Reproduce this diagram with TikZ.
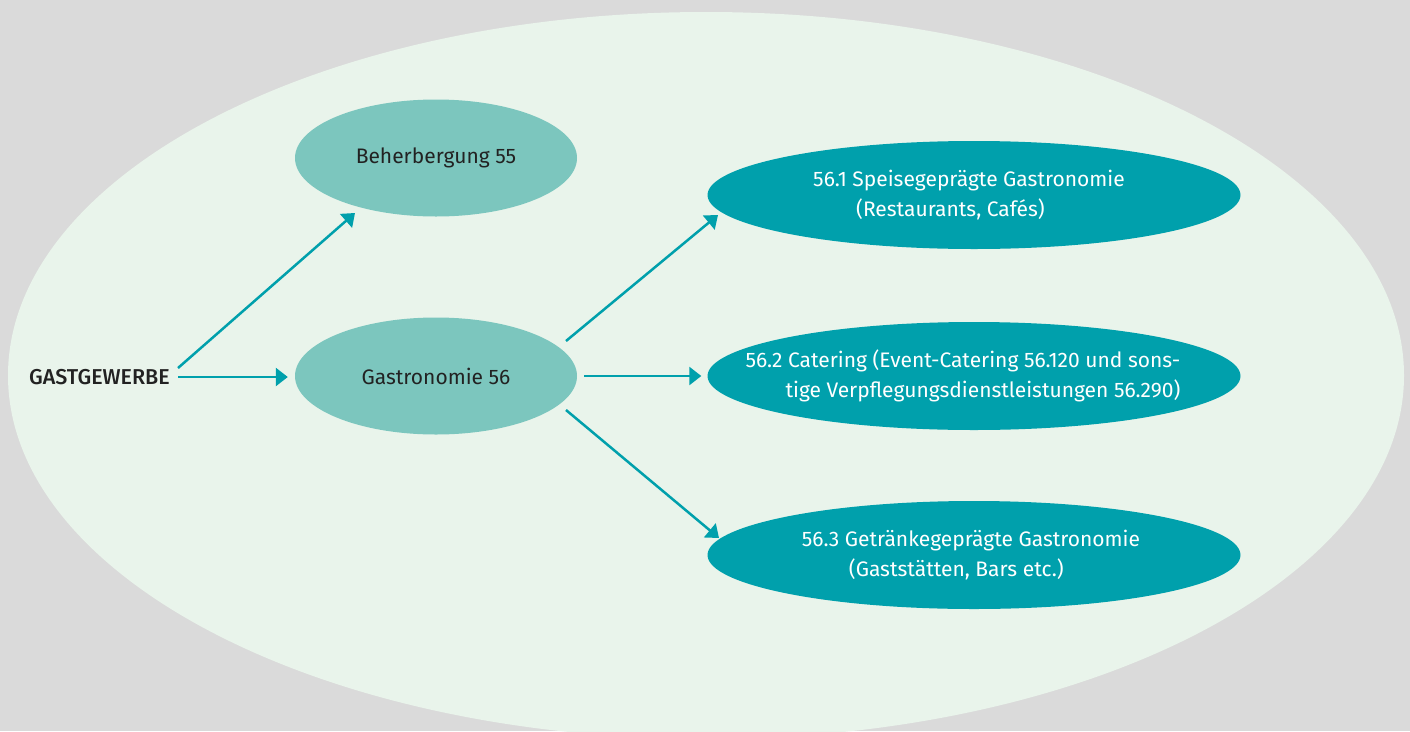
\documentclass[tikz,border=0pt]{standalone}
\usepackage{fontspec}
\setmainfont{Fira Sans}
\newfontfamily\ggfont{Fira Sans Medium}
\usetikzlibrary{shapes.geometric,arrows.meta,calc}
\definecolor{bgray}{HTML}{DADADA}
\definecolor{bigfill}{HTML}{E9F4EB}
\definecolor{lightteal}{HTML}{7CC6BE}
\definecolor{darkteal}{HTML}{00A0AC}
\definecolor{txtdark}{HTML}{222222}
\newcommand{\twolines}[3]{\makebox[0pt]{\hspace*{#1}\begin{tabular}{@{}l@{}}#2\\#3\end{tabular}}}
\newcommand{\twolinesr}[3]{\makebox[0pt]{\hspace*{#1}\begin{tabular}{@{}r@{}}#2\\#3\end{tabular}}}
\tikzset{
  lightell/.style={ellipse, fill=lightteal, draw=none, inner sep=0pt,
    minimum width=282pt, minimum height=117pt, text=txtdark,
    font=\fontsize{21}{30}\selectfont},
  darkell/.style={ellipse, fill=darkteal, draw=none, inner sep=0pt,
    minimum width=533pt, minimum height=108pt, text=white,
    font=\fontsize{21}{30}\selectfont},
  arr/.style={draw=darkteal, line width=2.5pt,
    -{Triangle[length=12pt,width=18pt]}},
  ggtext/.style={inner sep=0pt, text=txtdark, font=\ggfont\fontsize{21.5}{26}\selectfont}
}
\begin{document}
\begin{tikzpicture}[x=1pt,y=-1pt]
\fill[bgray] (0,0) rectangle (1410,731);
\useasboundingbox (0,0) rectangle (1410,731);
\begin{scope}
\clip (0,0) rectangle (1410,731);
\fill[bigfill] (706,375.5) ellipse [x radius=698, y radius=363.5];
\end{scope}
\node[ggtext, anchor=east] (gg) at (170,377) {GASTGEWERBE};
\node[lightell] (beh) at (436,158) {Beherbergung 55};
\node[lightell] (gas) at (436,376) {Gastronomie 56};
\node[darkell] (c1) at (974,195) {\twolines{-10pt}{56.1 Speisegeprägte Gastronomie}{\hspace*{43pt}(Restaurants, Cafés)}};
\node[darkell] (c2) at (974,376) {\twolinesr{-22pt}{56.2 Catering (Event-Catering 56.120 und sons-}{tige Verpflegungsdienstleistungen 56.290)}};
\node[darkell] (c3) at (974,555) {\twolines{-6pt}{56.3 Getränkegeprägte Gastronomie}{\hspace*{47pt}(Gaststätten, Bars etc.)}};
\draw[arr] ($(gg.east)+(8,-9)$) -- ($(beh.center)+(-81,55)$);
\draw[arr] ($(gg.east)+(8,0)$) -- ($(gas.west)+(-7,1)$);
\draw[arr] ($(gas.center)+(130,-35)$) -- ($(c1.center)+(-256,20)$);
\draw[arr] ($(gas.east)+(7,0)$) -- ($(c2.west)+(-6,0)$);
\draw[arr] ($(gas.center)+(130,34)$) -- ($(c3.center)+(-255,-17)$);
\end{tikzpicture}
\end{document}
